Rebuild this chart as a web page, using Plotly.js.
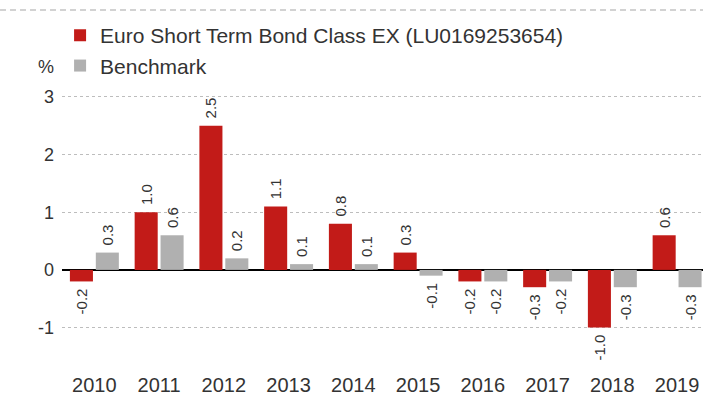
<!DOCTYPE html>
<html>
<head>
<meta charset="utf-8">
<script src="https://cdn.plot.ly/plotly-3.0.1.min.js"></script>
<style>html,body{margin:0;padding:0;background:#fff;}#chart{width:703px;height:408px;}</style>
</head>
<body>
<div id="chart"></div>
<script>
const years = ['2010','2011','2012','2013','2014','2015','2016','2017','2018','2019'];
const fundName = 'Euro Short Term Bond Class EX (LU0169253654)';
const benchName = 'Benchmark';
const fundValues = [-0.2, 1.0, 2.5, 1.1, 0.8, 0.3, -0.2, -0.3, -1.0, 0.6];
const benchValues = [0.3, 0.6, 0.2, 0.1, 0.1, -0.1, -0.2, -0.2, -0.3, -0.3];
const yTicks = [-1, 0, 1, 2, 3];
const yTickText = ['-1', '0', '1', '2', '3'];

const FONT = '"Liberation Sans", Arial, Helvetica, sans-serif';
const TXT = '#333333';

function barTrace(name, vals, color) {
  return {
    type: 'bar', name: name, x: years, y: vals,
    marker: {color: color},
    texttemplate: vals.map(v => v >= 0 ? '\u00a0%{y:.1f}' : '%{y:.1f}\u00a0'),
    textposition: 'outside', textangle: -90,
    textfont: {family: FONT, size: 15, color: TXT},
    constraintext: 'none', cliponaxis: false, hoverinfo: 'skip'
  };
}

const data = [
  barTrace(fundName, fundValues, '#c21b18'),
  barTrace(benchName, benchValues, '#b0b0b0')
];

const layout = {
  width: 703, height: 408,
  margin: {l: 62, r: 0, t: 91, b: 40},
  paper_bgcolor: '#fff', plot_bgcolor: '#fff',
  font: {family: FONT, color: TXT},
  showlegend: true,
  legend: {x: -0.003, xanchor: 'left', y: 1.274, yanchor: 'top',
    font: {family: FONT, size: 21, color: TXT}, bgcolor: 'rgba(0,0,0,0)'},
  bargap: 0.2, bargroupgap: 0.11,
  xaxis: {type: 'category', range: [-0.5, 9.4], showgrid: false, ticks: '',
    tickfont: {family: FONT, size: 20, color: TXT}, ticklabelstandoff: 3,
    showline: false, zeroline: false, fixedrange: true},
  yaxis: {range: [-1.7, 3.1], tickvals: yTicks, ticktext: yTickText, ticks: '', showgrid: true,
    gridcolor: '#bdbdbd', griddash: 'dot', gridwidth: 1,
    zeroline: true, zerolinecolor: '#000', zerolinewidth: 1.5,
    tickfont: {family: FONT, size: 18, color: TXT}, ticklabelstandoff: 7, fixedrange: true},
  annotations: [{text: '%', xref: 'paper', yref: 'paper', x: -0.0242, y: 1.0866,
    xanchor: 'center', yanchor: 'middle', showarrow: false,
    font: {family: FONT, size: 18, color: TXT}}],
  shapes: [{type: 'line', xref: 'paper', yref: 'paper', x0: -0.0967, x1: 1, y0: 1.2924, y1: 1.2924,
    line: {color: '#c4c4c4', width: 1.5, dash: '6px,4px'}}]
};

Plotly.newPlot('chart', data, layout, {displayModeBar: false, staticPlot: true});
</script>
</body>
</html>
